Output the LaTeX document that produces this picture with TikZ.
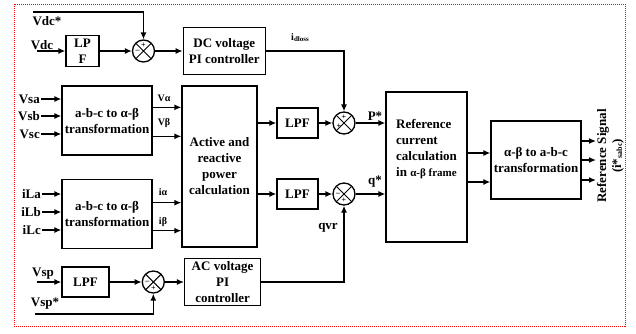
\documentclass[tikz,border=0pt]{standalone}
\usepackage{fontspec}
\setmainfont{Liberation Serif}
\usepackage{tikz}
\usetikzlibrary{arrows, arrows.meta, positioning, calc}

\begin{document}
\begin{tikzpicture}[
    x=1pt, y=-1pt,
    block/.style={
        rectangle,
        draw,
        line width=1.3pt,
        align=center,
        inner sep=0pt,
        font=\bfseries\fontsize{13}{16}\selectfont
    },
    sumnode/.style={
        circle,
        draw,
        line width=1.3pt,
        minimum size=22pt,
        inner sep=0pt,
        path picture={\draw[line width=1pt]
            (path picture bounding box.north west) -- (path picture bounding box.south east)
            (path picture bounding box.north east) -- (path picture bounding box.south west);}
    },
    sig/.style={font=\bfseries\fontsize{13}{16}\selectfont, inner sep=1pt},
    small/.style={font=\bfseries\fontsize{10}{12}\selectfont, inner sep=1pt},
    sgn/.style={font=\bfseries\fontsize{8}{8}\selectfont, inner sep=0pt},
    arrow/.style={-{Latex[length=7pt, width=6pt]}, line width=1.3pt},
    line/.style={line width=1.3pt}
]
\useasboundingbox (0,0) rectangle (636,333);

% frame
\draw[red, densely dotted, line width=1pt] (14,4) rectangle (625,326);

% dc voltage loop
\node[block, minimum width=33pt, minimum height=31pt] (lpf1) at (82.5,51) {LP\\F};
\node[sumnode] (sum1) at (143.5,51) {};
\node[block, minimum width=82pt, minimum height=47pt, right=27.5pt of sum1] (dcpi) {DC voltage\\PI controller};

% transformations and power calculation
\node[block, minimum width=90pt, minimum height=69pt] (abc1) at (107,120.5) {a-b-c to α-β\\transformation};
\node[block, minimum width=90pt, minimum height=69pt, below=23pt of abc1] (abc2) {a-b-c to α-β\\transformation};
\node[block, minimum width=75pt, minimum height=161pt] (pq) at (219.5,166.5) {Active and\\reactive\\power\\calculation};
\node[block, minimum width=41pt, minimum height=30pt] (lpf2) at (297.5,123) {LPF};
\node[block, minimum width=41pt, minimum height=30pt] (lpf3) at (297.5,194) {LPF};
\node[sumnode] (sum2) at (344,123) {};
\node[sumnode] (sum3) at (344,194) {};
\node[block, minimum width=81pt, minimum height=150pt] (refcal) at (426.5,167) {};
\node[block, draw=none, align=left] (reftxt) at (426.5,149) {Reference\\current\\calculation\\in {\fontsize{11}{14}\selectfont α-β frame}};
\node[block, minimum width=90pt, minimum height=78pt] (ab2abc) at (536,160) {α-β to a-b-c\\transformation};

% ac voltage loop
\node[block, minimum width=47pt, minimum height=30pt] (lpf4) at (85.5,282) {LPF};
\node[sumnode, right=32pt of lpf4] (sum4) {};
\node[block, minimum width=76pt, minimum height=47pt, right=19pt of sum4] (acpi) {AC voltage\\PI\\controller};

% signs
\node[sgn] (s1a) at ($(sum1)+(0,-6)$) {+};
\node[sgn] (s1b) at ($(sum1)+(-6,0)$) {\textendash};
\node[sgn] (s2a) at ($(sum2)+(0,-6)$) {+};
\node[sgn] (s2b) at ($(sum2)+(-5,3)$) {+};
\node[sgn] (s3a) at ($(sum3)+(-6,0)$) {\textendash};
\node[sgn] (s3b) at ($(sum3)+(0,6)$) {+};
\node[sgn] (s4a) at ($(sum4)+(-6,0)$) {\textendash};
\node[sgn] (s4b) at ($(sum4)+(0,6)$) {+};

% input labels
\node[sig] (vdcs) at (47,21) {Vdc*};
\node[sig] (vdc) at (42,45) {Vdc};
\node[sig, anchor=east] (vsa) at (41,99) {Vsa};
\node[sig, anchor=east] (vsb) at (41,116) {Vsb};
\node[sig, anchor=east] (vsc) at (41,134) {Vsc};
\node[sig, anchor=east] (ila) at (42,194) {iLa};
\node[sig, anchor=east] (ilb) at (42,212) {iLb};
\node[sig, anchor=east] (ilc) at (42,230) {iLc};
\node[sig] (vsp) at (43,274) {Vsp};
\node[sig] (vsps) at (45,304) {Vsp*};
\coordinate (vdcsin) at (33,12);
\coordinate (vdcin) at (37,51);
\coordinate (vspin) at (37,282);
\coordinate (vspsin) at (35,314);

% signal labels
\node[small] (idl) at (300,38) {i\raisebox{-1pt}{\fontsize{7}{7}\selectfont dloss}};
\node[small] (va) at (164,98) {Vα};
\node[small] (vb) at (164,123) {Vβ};
\node[small] (ia) at (163,192) {iα};
\node[small] (ib) at (163,222) {iβ};
\node[sig] (pstar) at (375,116) {P*};
\node[sig] (qstar) at (375,182) {q*};
\node[sig] (qvr) at (328,228) {qvr};
\node[sig, rotate=90] (refsig) at (603,156) {Reference Signal};
\node[sig, rotate=90] (isabc) at (618,156) {(i*\raisebox{-1pt}{\fontsize{8}{8}\selectfont sabc})};

% tap points
\coordinate (pva) at ([yshift=-22pt]abc1.north east);
\coordinate (pvb) at ([yshift=-51pt]abc1.north east);
\coordinate (pia) at ([yshift=-24pt]abc2.north east);
\coordinate (pib) at ([yshift=-52pt]abc2.north east);
\coordinate (r1) at ([yshift=14pt]refcal.east);
\coordinate (r2) at ([yshift=-15pt]refcal.east);
\coordinate (o1) at (596,141);
\coordinate (o2) at (596,160);
\coordinate (o3) at (596,180);

\draw[arrow] (vdcsin) -| (sum1);
\draw[arrow] (vdcin) -- (lpf1);
\draw[arrow] (lpf1) -- (sum1);
\draw[arrow] (sum1) -- (dcpi);
\draw[arrow] (dcpi) -| (sum2);
\draw[arrow] (vsa) -- (vsa -| abc1.west);
\draw[arrow] (vsb) -- (vsb -| abc1.west);
\draw[arrow] (vsc) -- (vsc -| abc1.west);
\draw[arrow] (ila) -- (ila -| abc2.west);
\draw[arrow] (ilb) -- (ilb -| abc2.west);
\draw[arrow] (ilc) -- (ilc -| abc2.west);
\draw[arrow] (pva) -- (pva -| pq.west);
\draw[arrow] (pvb) -- (pvb -| pq.west);
\draw[arrow] (pia) -- (pia -| pq.west);
\draw[arrow] (pib) -- (pib -| pq.west);
\draw[arrow] (pq.east |- lpf2) -- (lpf2);
\draw[arrow] (pq.east |- lpf3) -- (lpf3);
\draw[arrow] (lpf2) -- (sum2);
\draw[arrow] (lpf3) -- (sum3);
\draw[arrow] (sum2) -- (sum2 -| refcal.west);
\draw[arrow] (sum3) -- (sum3 -| refcal.west);
\draw[arrow] (r1) -- (r1 -| ab2abc.west);
\draw[arrow] (r2) -- (r2 -| ab2abc.west);
\draw[arrow] (ab2abc.east |- o1) -- (o1);
\draw[arrow] (ab2abc.east |- o2) -- (o2);
\draw[arrow] (ab2abc.east |- o3) -- (o3);
\draw[arrow] (vspin) -- (lpf4);
\draw[arrow] (lpf4) -- (sum4);
\draw[arrow] (vspsin) -| (sum4);
\draw[arrow] (sum4) -- (acpi);
\draw[arrow] (acpi) -| (sum3);

\end{tikzpicture}
\end{document}
